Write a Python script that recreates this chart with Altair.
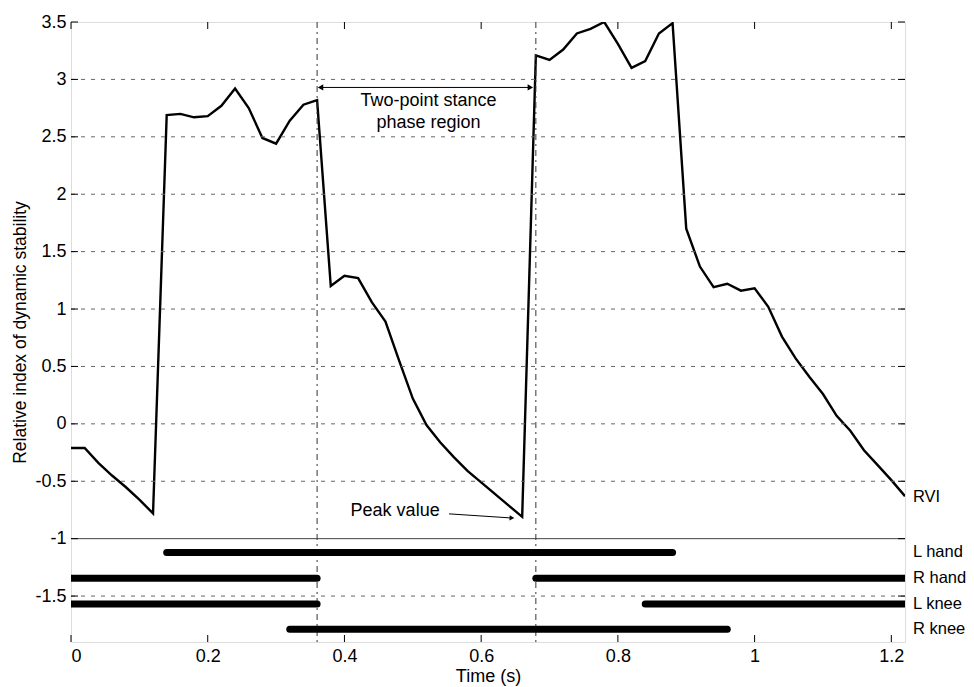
import altair as alt
import pandas as pd

FONT = "Liberation Sans"

# ---- data ----
time_s = [0.00, 0.02, 0.04, 0.06, 0.08, 0.10, 0.12, 0.14, 0.16, 0.18,
          0.20, 0.22, 0.24, 0.26, 0.28, 0.30, 0.32, 0.34, 0.36, 0.38,
          0.40, 0.42, 0.44, 0.46, 0.48, 0.50, 0.52, 0.54, 0.56, 0.58,
          0.60, 0.62, 0.64, 0.66, 0.68, 0.70, 0.72, 0.74, 0.76, 0.78,
          0.80, 0.82, 0.84, 0.86, 0.88, 0.90, 0.92, 0.94, 0.96, 0.98,
          1.00, 1.02, 1.04, 1.06, 1.08, 1.10, 1.12, 1.14, 1.16, 1.18,
          1.20, 1.22]
rvi = [-0.21, -0.21, -0.34, -0.45, -0.55, -0.66, -0.78, 2.69, 2.70, 2.67,
       2.68, 2.77, 2.92, 2.75, 2.49, 2.44, 2.64, 2.78, 2.82, 1.20,
       1.29, 1.27, 1.06, 0.89, 0.55, 0.22, -0.01, -0.16, -0.29, -0.41,
       -0.51, -0.61, -0.71, -0.81, 3.21, 3.17, 3.26, 3.40, 3.44, 3.50,
       3.31, 3.10, 3.16, 3.40, 3.49, 1.70, 1.37, 1.19, 1.22, 1.16,
       1.18, 1.02, 0.76, 0.57, 0.41, 0.26, 0.07, -0.06, -0.23, -0.36,
       -0.49, -0.63]

limb_name = ["L hand", "R hand", "R hand", "L knee", "L knee", "R knee"]
limb_y = [-1.12, -1.345, -1.345, -1.568, -1.568, -1.79]
limb_start = [0.14, 0.00, 0.68, 0.00, 0.84, 0.32]
limb_end = [0.88, 0.36, 1.22, 0.36, 1.22, 0.96]

label_text = ["RVI", "L hand", "R hand", "L knee", "R knee"]
label_y = [-0.64, -1.12, -1.345, -1.568, -1.79]
label_x = [1.22, 1.22, 1.22, 1.22, 1.22]

x_ticks = [0, 0.2, 0.4, 0.6, 0.8, 1, 1.2]
y_ticks = [-1.5, -1, -0.5, 0, 0.5, 1, 1.5, 2, 2.5, 3, 3.5]
grid_y = [-1.5, -0.5, 0, 0.5, 1, 1.5, 2, 2.5, 3]
separator_y = [-1]
phase_x = [0.36, 0.68]

stance_arrow_x = [0.365]
stance_arrow_x2 = [0.672]
stance_arrow_y = [2.93]
stance_text = ["Two-point stance", "phase region"]
stance_text_x = [0.523, 0.523]
stance_text_y = [2.81, 2.62]

peak_text = ["Peak value"]
peak_text_x = [0.409]
peak_text_y = [-0.76]
peak_arrow_x = [0.553]
peak_arrow_y = [-0.784]
peak_arrow_x2 = [0.645]
peak_arrow_y2 = [-0.82]

X_DOMAIN = [0, 1.22]
Y_DOMAIN = [-1.9, 3.5]

xs = alt.Scale(domain=X_DOMAIN, nice=False, zero=False)
ys = alt.Scale(domain=Y_DOMAIN, nice=False, zero=False)

XAX = alt.Axis(
    values=x_ticks, labelExpr="datum.value + ''", grid=False, ticks=False,
    domain=False, labelFont=FONT, labelFontSize=18, labelColor="black",
    labelPadding=5, title="Time (s)", titleFont=FONT, titleFontSize=18,
    titleFontWeight="normal", titleColor="black", titlePadding=2)
YAX = alt.Axis(
    values=y_ticks, labelExpr="datum.value + ''", grid=False, ticks=False,
    domain=False, labelFont=FONT, labelFontSize=18, labelColor="black",
    labelPadding=5, title="Relative index of dynamic stability",
    titleFont=FONT, titleFontSize=17.5, titleFontWeight="normal",
    titleColor="black", titlePadding=5)


def X(field):
    return alt.X(field, scale=xs, axis=XAX, title="Time (s)")


def Y(field):
    return alt.Y(field, scale=ys, axis=YAX, title="Relative index of dynamic stability")


W, H = 834, 620

# ---- layers ----
curve_df = pd.DataFrame({"t": time_s, "rvi": rvi})
curve = alt.Chart(curve_df).mark_line(color="black", strokeWidth=2.4, clip=True).encode(
    x=X("t:Q"), y=Y("rvi:Q"))

grid = alt.Chart(pd.DataFrame({"gy": grid_y})).mark_rule(
    color="#666", strokeWidth=1, strokeDash=[4, 6]).encode(y=Y("gy:Q"))

sep = alt.Chart(pd.DataFrame({"sy": separator_y})).mark_rule(
    color="#444", strokeWidth=1).encode(y=Y("sy:Q"))

phase = alt.Chart(pd.DataFrame({"px": phase_x})).mark_rule(
    color="#333", strokeWidth=1, strokeDash=[6, 4, 2, 4]).encode(x=X("px:Q"))

# inward ticks (box style)
xt_df = pd.DataFrame({"xt": x_ticks})
ticks_bottom = alt.Chart(xt_df).mark_rule(color="black", strokeWidth=1).encode(
    x=X("xt:Q"), y=alt.value(H), y2=alt.value(H - 7))
ticks_top = alt.Chart(xt_df).mark_rule(color="black", strokeWidth=1).encode(
    x=X("xt:Q"), y=alt.value(0), y2=alt.value(7))
yt_df = pd.DataFrame({"yt": y_ticks})
ticks_left = alt.Chart(yt_df).mark_rule(color="black", strokeWidth=1).encode(
    y=Y("yt:Q"), x=alt.value(0), x2=alt.value(7))
ticks_right = alt.Chart(yt_df).mark_rule(color="black", strokeWidth=1).encode(
    y=Y("yt:Q"), x=alt.value(W), x2=alt.value(W - 7))

limb_df = pd.DataFrame({"name": limb_name, "ly": limb_y, "s": limb_start, "e": limb_end})
limbs = alt.Chart(limb_df).mark_rule(
    color="black", strokeWidth=7, strokeCap="round", clip=True).encode(
    x=X("s:Q"), x2="e:Q", y=Y("ly:Q"))

labels_df = pd.DataFrame({"txt": label_text, "lx": label_x, "ly": label_y})
labels = alt.Chart(labels_df).mark_text(
    align="left", baseline="middle", dx=8, font=FONT, fontSize=16.5, color="black").encode(
    x=X("lx:Q"), y=Y("ly:Q"), text="txt:N")

# two-point stance annotation
sa_df = pd.DataFrame({"ax": stance_arrow_x, "ax2": stance_arrow_x2, "ay": stance_arrow_y})
stance_line = alt.Chart(sa_df).mark_rule(color="black", strokeWidth=1).encode(
    x=X("ax:Q"), x2="ax2:Q", y=Y("ay:Q"))
stance_head_l = alt.Chart(sa_df).mark_point(
    shape="triangle-left", filled=True, color="black", size=40, opacity=1).encode(
    x=X("ax:Q"), y=Y("ay:Q"))
stance_head_r = alt.Chart(sa_df).mark_point(
    shape="triangle-right", filled=True, color="black", size=40, opacity=1).encode(
    x=X("ax2:Q"), y=Y("ay:Q"))
st_df = pd.DataFrame({"txt": stance_text, "tx": stance_text_x, "ty": stance_text_y})
stance_txt = alt.Chart(st_df).mark_text(
    align="center", baseline="middle", font=FONT, fontSize=18, color="black").encode(
    x=X("tx:Q"), y=Y("ty:Q"), text="txt:N")

# peak value annotation
pt_df = pd.DataFrame({"txt": peak_text, "tx": peak_text_x, "ty": peak_text_y})
peak_txt = alt.Chart(pt_df).mark_text(
    align="left", baseline="middle", font=FONT, fontSize=18, color="black").encode(
    x=X("tx:Q"), y=Y("ty:Q"), text="txt:N")
pa_df = pd.DataFrame({"ax": peak_arrow_x, "ay": peak_arrow_y,
                      "ax2": peak_arrow_x2, "ay2": peak_arrow_y2})
peak_line = alt.Chart(pa_df).mark_rule(color="black", strokeWidth=1).encode(
    x=X("ax:Q"), x2="ax2:Q", y=Y("ay:Q"), y2="ay2:Q")
peak_head = alt.Chart(pa_df).mark_point(
    shape="triangle-right", filled=True, color="black", size=30, opacity=1, angle=3).encode(
    x=X("ax2:Q"), y=Y("ay2:Q"))

chart = alt.layer(
    curve, grid, sep, phase, ticks_bottom, ticks_top, ticks_left, ticks_right,
    limbs, labels, stance_line, stance_head_l, stance_head_r, stance_txt,
    peak_txt, peak_line, peak_head,
).properties(
    width=W, height=H,
    autosize=alt.AutoSizeParams(type="none"),
    padding={"left": 63, "top": 14, "right": 61, "bottom": 45},
).configure_view(
    stroke="black", strokeWidth=1
).configure(background="white")

chart.save("out.html", embed_options={"renderer": "svg", "actions": False})
